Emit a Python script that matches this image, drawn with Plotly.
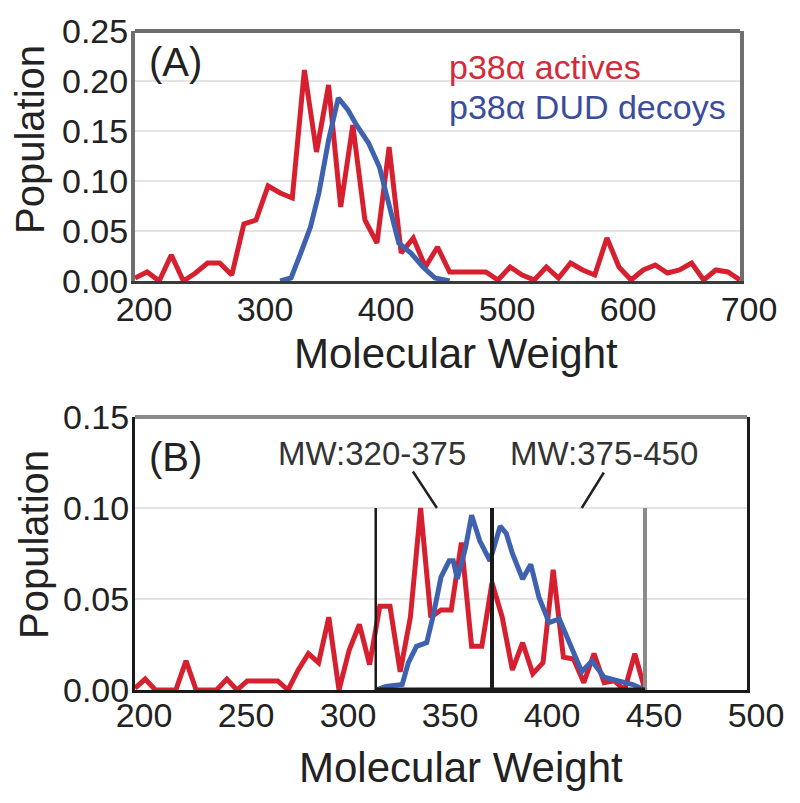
import plotly.graph_objects as go

# ---------------- data ----------------
# Panel A: p38a actives (red) and DUD decoys (blue), MW 200-700
a_act_x = [200, 210, 220, 230, 240, 250, 260, 270, 280, 290, 300, 310, 320, 330, 340,
           350, 360, 370, 380, 390, 400, 410, 420, 430, 440, 450, 460, 470, 480, 490,
           500, 510, 520, 530, 540, 550, 560, 570, 580, 590, 600, 610, 620, 630, 640,
           650, 660, 670, 680, 690, 700]
a_act_y = [0.003, 0.009, 0.000, 0.026, 0.000, 0.008, 0.018, 0.018, 0.006, 0.057,
           0.061, 0.095, 0.088, 0.083, 0.211, 0.129, 0.196, 0.074, 0.156, 0.061,
           0.038, 0.134, 0.028, 0.043, 0.014, 0.034, 0.009, 0.009, 0.009, 0.009,
           0.001, 0.014, 0.006, 0.001, 0.014, 0.003, 0.018, 0.011, 0.006, 0.043,
           0.014, 0.001, 0.011, 0.016, 0.008, 0.011, 0.018, 0.001, 0.011, 0.009,
           0.001]
a_dec_x = [320, 329, 337, 345, 352, 360, 368, 376, 383, 393, 402, 410, 418, 428, 438, 448, 460]
a_dec_y = [0.000, 0.003, 0.028, 0.054, 0.088, 0.141, 0.183, 0.171, 0.156, 0.138,
           0.114, 0.078, 0.038, 0.028, 0.014, 0.003, 0.000]

# Panel B: zoom on MW 200-500
b_act_x = [200, 205, 210, 215, 220, 225, 230, 235, 240, 245, 250, 255, 260, 265, 270,
           275, 280, 285, 290, 295, 300, 305, 310, 315, 320, 325, 330, 335, 340, 345,
           350, 355, 360, 365, 370, 375, 380, 385, 390, 395, 400, 405, 410, 415, 420,
           425, 430, 435, 440, 445, 450]
b_act_y = [0.001, 0.006, 0.000, 0.000, 0.000, 0.016, 0.000, 0.000, 0.000, 0.006,
           0.000, 0.005, 0.005, 0.005, 0.005, 0.000, 0.011, 0.020, 0.015, 0.040,
           0.000, 0.022, 0.036, 0.014, 0.046, 0.046, 0.010, 0.040, 0.100, 0.040,
           0.044, 0.044, 0.081, 0.024, 0.024, 0.059, 0.040, 0.011, 0.026, 0.009,
           0.015, 0.066, 0.018, 0.017, 0.004, 0.020, 0.004, 0.005, 0.000, 0.020,
           0.000]
b_dec_x = [318, 323, 331, 334, 338, 343, 346, 350, 354, 356, 358, 362, 365, 369, 374,
           379, 382, 385, 390, 394, 398, 403, 408, 413, 419, 424, 430, 437, 444, 450]
b_dec_y = [0.000, 0.002, 0.003, 0.015, 0.024, 0.026, 0.040, 0.062, 0.071, 0.071,
           0.061, 0.078, 0.096, 0.082, 0.071, 0.090, 0.086, 0.075, 0.061, 0.069,
           0.051, 0.037, 0.039, 0.026, 0.010, 0.016, 0.007, 0.005, 0.003, 0.000]

# MW window boundaries drawn in panel B
bin_edges = [318, 375, 450]
bin_top = 0.10
window_labels = ["MW:320-375", "MW:375-450"]
window_label_x = [316, 430]
window_label_y = 0.1297
leader_end_x = [348, 419]

a_xticks = [200, 300, 400, 500, 600, 700]
a_yticks = [0.00, 0.05, 0.10, 0.15, 0.20, 0.25]
b_xticks = [200, 250, 300, 350, 400, 450, 500]
b_yticks = [0.00, 0.05, 0.10, 0.15]

# ---------------- styling ----------------
W, H = 800, 803
L, R, T, B = 135, 53, 17, 113
PW, PH = W - L - R, H - T - B

def px_x(px):
    return (px - L) / PW

def px_y(py):
    return (H - B - py) / PH

RED = "#D6202F"
BLUE = "#3F62AE"
FONT = "Liberation Sans, Arial, sans-serif"
TXT = "#222222"

fig = go.Figure()

fig.add_trace(go.Scatter(x=a_act_x, y=a_act_y, mode="lines", xaxis="x", yaxis="y",
                         line=dict(color=RED, width=5), showlegend=False))
fig.add_trace(go.Scatter(x=a_dec_x, y=a_dec_y, mode="lines", xaxis="x", yaxis="y",
                         line=dict(color=BLUE, width=5), showlegend=False))
fig.add_trace(go.Scatter(x=b_act_x, y=b_act_y, mode="lines", xaxis="x2", yaxis="y2",
                         line=dict(color=RED, width=5), showlegend=False))
fig.add_trace(go.Scatter(x=b_dec_x, y=b_dec_y, mode="lines", xaxis="x2", yaxis="y2",
                         line=dict(color=BLUE, width=5), showlegend=False))

# window boundary lines
edge_colors = ["#1a1a1a", "#1a1a1a", "#8a8a8a"]
edge_widths = [2.5, 4, 4]
for xe, c, w in zip(bin_edges, edge_colors, edge_widths):
    fig.add_trace(go.Scatter(x=[xe, xe], y=[0, bin_top], mode="lines", xaxis="x2", yaxis="y2",
                             line=dict(color=c, width=w), showlegend=False))
fig.add_trace(go.Scatter(x=[bin_edges[0], bin_edges[-1]], y=[0, 0], mode="lines",
                         xaxis="x2", yaxis="y2", line=dict(color="#1a1a1a", width=5),
                         showlegend=False))

tickfont = dict(family=FONT, size=34, color=TXT)
common_x = dict(showgrid=False, zeroline=False, ticks="", tickfont=tickfont,
                ticklabelshift=9, automargin=False)
common_y = dict(showgrid=True, gridcolor="#e4e4e4", gridwidth=2, zeroline=False,
                ticks="", tickfont=tickfont, tickformat=".2f", automargin=False,
                ticklabelstandoff=-4)

fig.update_layout(
    template="none",
    width=W, height=H,
    margin=dict(l=L, r=R, t=T, b=B, autoexpand=False),
    paper_bgcolor="white", plot_bgcolor="white",
    showlegend=False,
    xaxis=dict(domain=[0, px_x(740)], range=[200, 700], tickvals=a_xticks,
               anchor="y", showline=True, linecolor="#3a3a3a", linewidth=3,
               ticklabelstandoff=-4, **common_x),
    yaxis=dict(domain=[px_y(281), px_y(31)], range=[0, 0.25], tickvals=a_yticks,
               anchor="x", showline=True, linecolor="#6e6e6e", linewidth=4, mirror=True,
               **common_y),
    xaxis2=dict(domain=[0, 1], range=[200, 500], tickvals=b_xticks,
                anchor="y2", showline=True, linecolor="#1a1a1a", linewidth=3,
                ticklabelstandoff=-7, **common_x),
    yaxis2=dict(domain=[0, px_y(417)], range=[0, 0.15], tickvals=b_yticks,
                anchor="x2", showline=True, linecolor="#1a1a1a", linewidth=3, mirror=True,
                **common_y),
)

# top borders (gray)
fig.add_shape(type="line", xref="x domain", yref="y domain", x0=0, x1=1, y0=1, y1=1,
              line=dict(color="#6e6e6e", width=4))
fig.add_shape(type="line", xref="x2 domain", yref="y2 domain", x0=0, x1=1, y0=1, y1=1,
              line=dict(color="#8a8a8a", width=4))

ann = []
def text(x, y, s, size, color=TXT, xanchor="center", angle=0):
    ann.append(dict(x=px_x(x), y=px_y(y), xref="paper", yref="paper", text=s,
                    showarrow=False, xanchor=xanchor, yanchor="middle", textangle=angle,
                    font=dict(family=FONT, size=size, color=color)))

text(175, 62, "(A)", 40)
text(175, 457, "(B)", 40)
text(447, 67, "p38α actives", 34, color="#D42A3A", xanchor="left")
text(447, 107, "p38α DUD decoys", 34, color="#3B4C9C", xanchor="left")
text(30, 140, "Population", 40, angle=-90)
text(34, 545, "Population", 40, angle=-90)
text(292, 353, "Molecular Weight", 42, xanchor="left")
text(297, 767, "Molecular Weight", 42, xanchor="left")

for lab, lx in zip(window_labels, window_label_x):
    ann.append(dict(x=lx, y=window_label_y, xref="x2", yref="y2", text=lab, showarrow=False,
                    xanchor="center", yanchor="middle",
                    font=dict(family=FONT, size=33, color="#333333")))
# leader lines
ann.append(dict(x=leader_end_x[0], y=bin_top, xref="x2", yref="y2", text="", showarrow=True,
                arrowhead=0, arrowwidth=2.5, arrowcolor="#222222", ax=-25, ay=-38))
ann.append(dict(x=leader_end_x[1], y=bin_top, xref="x2", yref="y2", text="", showarrow=True,
                arrowhead=0, arrowwidth=2.5, arrowcolor="#222222", ax=23, ay=-37))

fig.update_layout(annotations=ann)
fig.write_html("out.html", config={"displayModeBar": False},
               post_script="document.body.style.margin='0';document.body.style.padding='0';")
